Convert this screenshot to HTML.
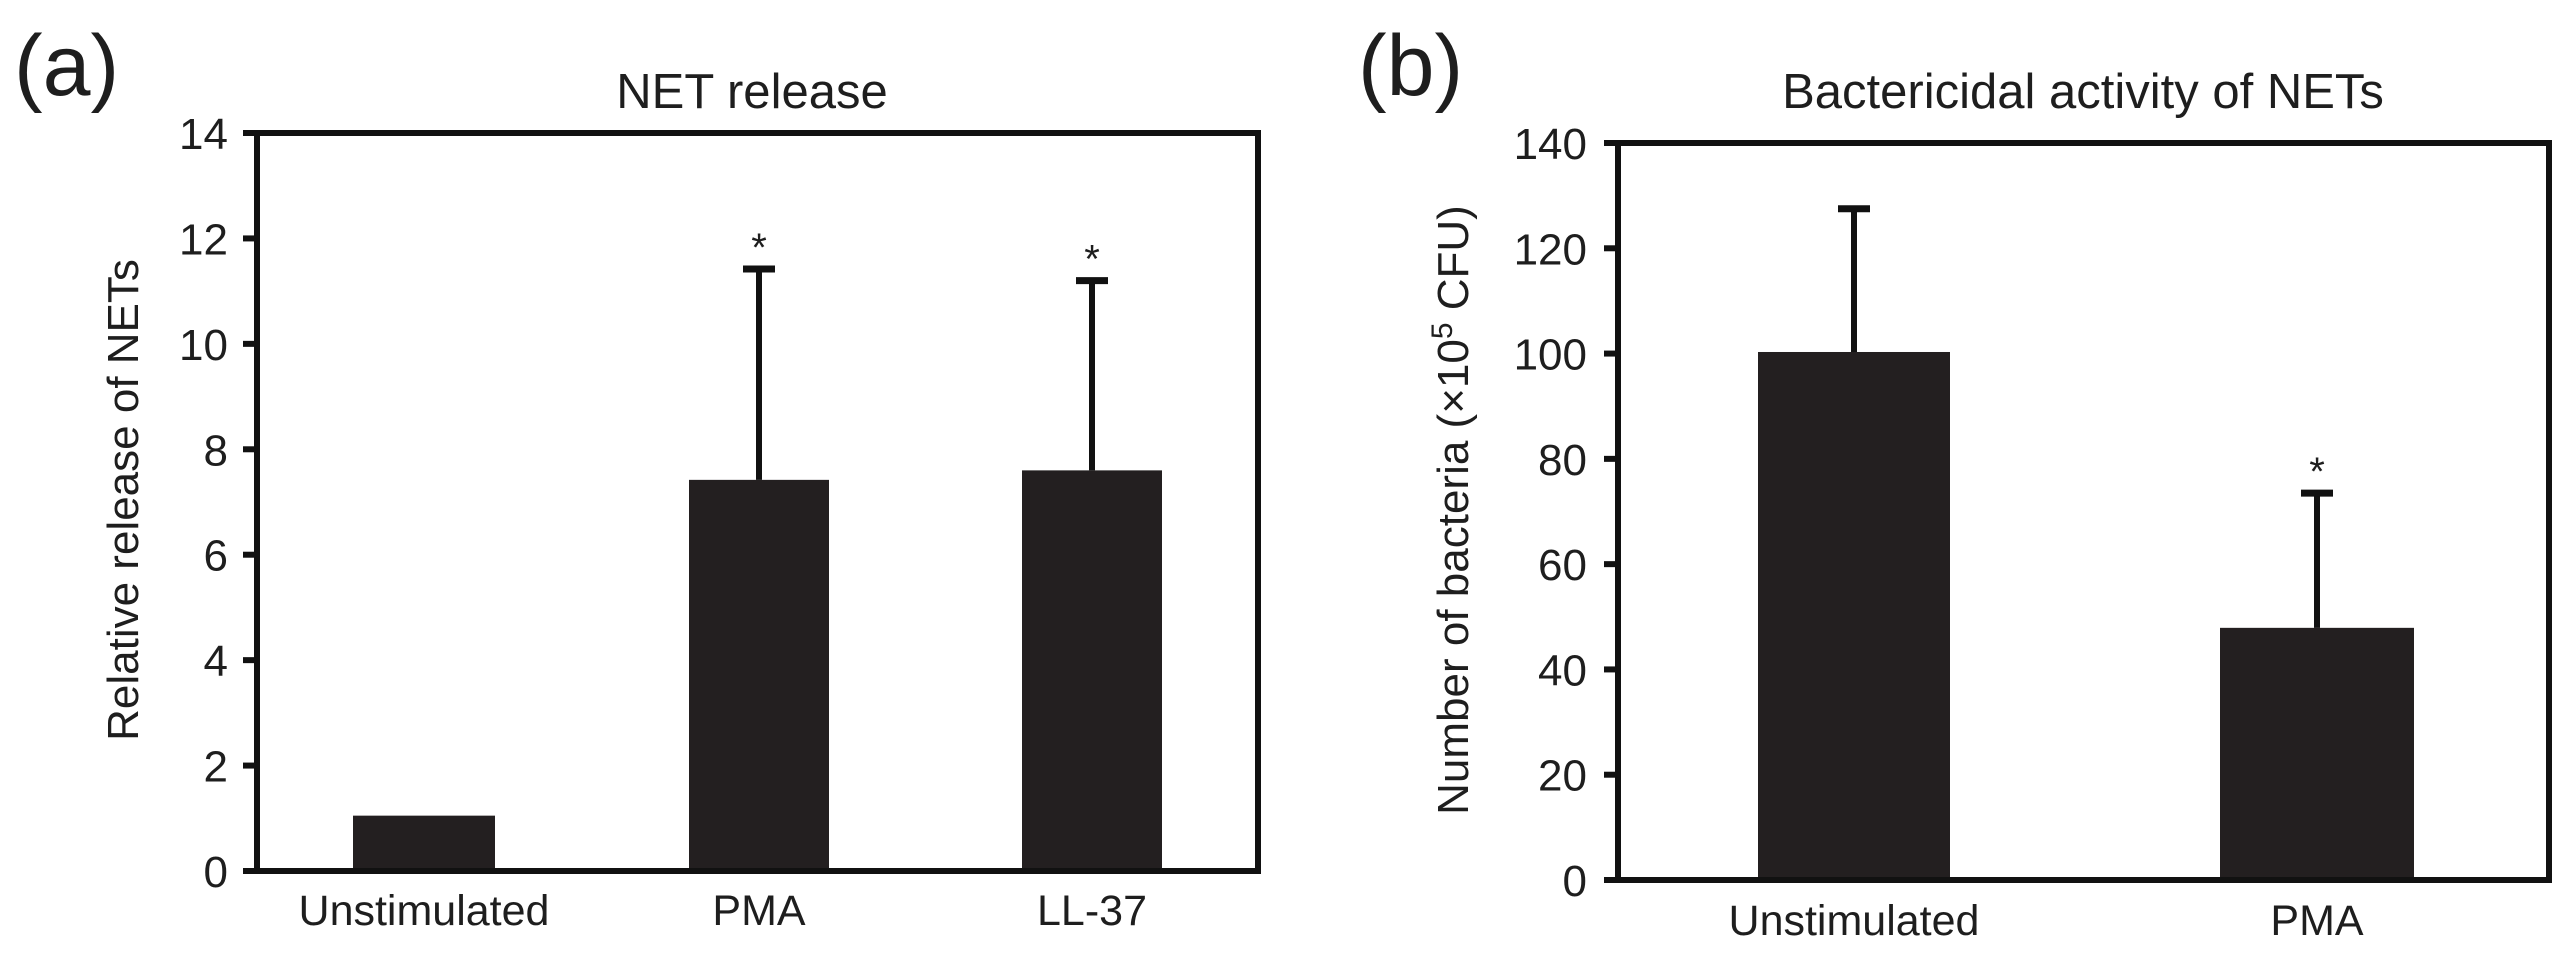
<!DOCTYPE html>
<html><head><meta charset="utf-8">
<style>
html,body{margin:0;padding:0;background:#fff;}
svg{display:block;}
text{font-family:"Liberation Sans",Arial,sans-serif;fill:#1e1e1e;}
</style></head>
<body>
<svg id="fig" width="2574" height="958" viewBox="0 0 2574 958" xmlns="http://www.w3.org/2000/svg"></svg>
<script>
// Panel (a) data
const catsA = ["Unstimulated", "PMA", "LL-37"];
const valsA = [1.05, 7.42, 7.6];
const errA = [null, 11.42, 11.2];
const sigA = [false, true, true];
const ticksA = [0, 2, 4, 6, 8, 10, 12, 14];
// Panel (b) data
const catsB = ["Unstimulated", "PMA"];
const valsB = [100.3, 47.9];
const errB = [127.5, 73.5];
const sigB = [false, true];
const ticksB = [0, 20, 40, 60, 80, 100, 120, 140];

const NS = "http://www.w3.org/2000/svg";
const svg = document.getElementById("fig");
function mk(tag, attrs, parent) {
  const e = document.createElementNS(NS, tag);
  for (const k in attrs) e.setAttribute(k, attrs[k]);
  (parent || svg).appendChild(e);
  return e;
}

function panel(cfg) {
  const g = mk("g", {});
  
  
  const {L, R, T, B, max} = cfg;
  const y = v => B - (v / max) * (B - T);
  // bars
  cfg.cats.forEach((c, i) => {
    const x0 = cfg.barX[i][0], x1 = cfg.barX[i][1];
    const cx = (x0 + x1) / 2;
    if (cfg.errs[i] != null) {
      const el = mk("line", {x1: cx, x2: cx, y1: y(cfg.vals[i]), y2: y(cfg.errs[i]), stroke: "#111", "stroke-width": 6}, g);
      
      
      const cap = mk("line", {x1: cx - 16, x2: cx + 16, y1: y(cfg.errs[i]), y2: y(cfg.errs[i]), stroke: "#111", "stroke-width": 7}, g);
      
      
      if (cfg.sig[i]) {
        const s = mk("text", {x: cx, y: y(cfg.errs[i]) - 8, "text-anchor": "middle", "font-size": 40}, g);
        s.textContent = "*";
        
        
      }
    }
    const r = mk("rect", {x: x0, y: y(cfg.vals[i]), width: x1 - x0, height: B - y(cfg.vals[i]), fill: "#231f20"}, g);
    
    
    const t = mk("text", {x: cx, y: cfg.catY, "text-anchor": "middle", "font-size": 43}, g);
    t.textContent = c;
    
    
  });
  // frame
  const fr = mk("rect", {x: L, y: T, width: R - L, height: B - T, fill: "none", stroke: "#111", "stroke-width": 6}, g);
  
  
  // ticks
  cfg.ticks.forEach(v => {
    const tk = mk("line", {x1: L - 14, x2: L, y1: y(v), y2: y(v), stroke: "#111", "stroke-width": 6}, g);
    
    
    const tl = mk("text", {x: cfg.tickR, y: y(v) + 16, "text-anchor": "end", "font-size": 44}, g);
    tl.textContent = v;
    
    
  });
  // title
  const ti = mk("text", {x: cfg.titleX, y: 108, "text-anchor": "middle", "font-size": 49}, g);
  ti.textContent = cfg.title;
  
  
  // y title
  const yt = mk("text", {x: 0, y: 0, "text-anchor": "middle", "font-size": 44, transform: `translate(${cfg.ylX},${cfg.ylY}) rotate(-90)`}, g);
  if (cfg.sup) {
    yt.appendChild(document.createTextNode("Number of bacteria (\u00d710"));
    const sp = mk("tspan", {"font-size": 30, dy: -16}, yt);
    sp.textContent = "5";
    const sp2 = mk("tspan", {dy: 16}, yt);
    sp2.textContent = " CFU)";
  } else {
    yt.textContent = cfg.ylabel;
  }
  
  
  // panel letter
  const pl = mk("text", {x: cfg.letterX, y: 95, "font-size": 86}, g);
  pl.textContent = cfg.letter;
  
  
}

panel({name: "panel-a-net-release", L: 257, R: 1258, T: 133, B: 871, max: 14,
  cats: catsA, vals: valsA, errs: errA, sig: sigA, ticks: ticksA,
  barX: [[353, 495], [689, 829], [1022, 1162]], catY: 925, tickR: 228,
  title: "NET release", titleX: 752, ylabel: "Relative release of NETs", ylX: 138, ylY: 500,
  letter: "(a)", letterX: 14});
panel({name: "panel-b-bactericidal-activity", L: 1618, R: 2549, T: 143, B: 880, max: 140,
  cats: catsB, vals: valsB, errs: errB, sig: sigB, ticks: ticksB,
  barX: [[1758, 1950], [2220, 2414]], catY: 935, tickR: 1587,
  title: "Bactericidal activity of NETs", titleX: 2083, sup: true, ylX: 1468, ylY: 510,
  letter: "(b)", letterX: 1358});
</script>
</body></html>
